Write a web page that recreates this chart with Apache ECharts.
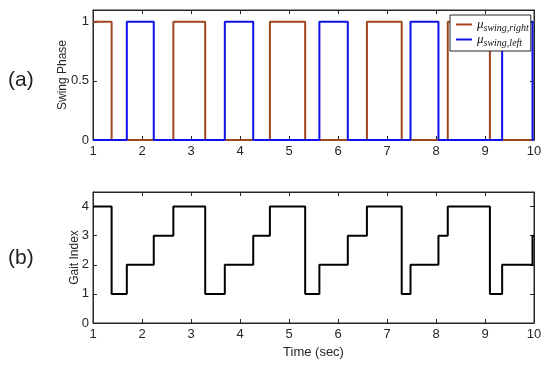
<!DOCTYPE html>
<html><head><meta charset="utf-8">
<script src="https://cdn.jsdelivr.net/npm/echarts@6/dist/echarts.min.js"></script>
<style>html,body{margin:0;padding:0;background:#fff}#c{width:550px;height:365px}</style>
</head><body><div id="c"></div>
<script>
// ---- data ----
var timeTicks = [1,2,3,4,5,6,7,8,9,10];
var phaseTicks = [0, 0.5, 1];
var gaitTicks = [0, 1, 2, 3, 4];
// right swing: change times and values (value holds from that time)
var rightT = [1, 1.38, 2.64, 3.29, 4.61, 5.33, 6.59, 7.30, 8.24, 9.10, 10];
var rightV = [1, 0, 1, 0, 1, 0, 1, 0, 1, 0, 0];
// left swing
var leftT = [1, 1.69, 2.24, 3.69, 4.27, 5.62, 6.20, 7.48, 8.05, 9.35, 9.97, 10];
var leftV = [0, 1, 0, 1, 0, 1, 0, 1, 0, 1, 0, 0];
// gait index
var gaitT = [1, 1.38, 1.69, 2.24, 2.64, 3.29, 3.69, 4.27, 4.61, 5.33, 5.62, 6.20, 6.59, 7.30, 7.48, 8.05, 8.24, 9.10, 9.35, 9.97, 10];
var gaitV = [4, 1, 2, 3, 4, 1, 2, 3, 4, 1, 2, 3, 4, 1, 2, 3, 4, 1, 2, 3, 3];
var seriesNames = ['right', 'left'];

function pairs(t, v){ return t.map(function(x,i){ return [x, v[i]]; }); }

var ax = '#262626';
var font = 'Liberation Sans, Arial, sans-serif';
var chart = echarts.init(document.getElementById('c'), null, {renderer:'canvas'});

function xAx(grid, pos, showLabel, name){
  return {
    type:'value', gridIndex:grid, position:pos, min:1, max:10, interval:1,
    axisLine:{show:true, onZero:false, lineStyle:{color:ax, width:1}},
    axisTick:{show:true, inside:true, length:4, lineStyle:{color:ax}},
    axisLabel:{show:showLabel, color:ax, fontSize:13, fontFamily:font, margin:5},
    splitLine:{show:false},
    name: name || '', nameLocation:'middle', nameGap:23, nameMoveOverlap:false,
    nameTextStyle:{color:ax, fontSize:13, fontFamily:font}
  };
}
function yAx(grid, pos, max, ticks, showLabel, name, gap){
  return {
    type:'value', gridIndex:grid, position:pos, min:0, max:max,
    axisLine:{show:true, onZero:false, lineStyle:{color:ax, width:1}},
    axisTick:{show:true, inside:true, length:4, customValues:ticks, lineStyle:{color:ax}},
    axisLabel:{show:showLabel, customValues:ticks, color:ax, fontSize:13, fontFamily:font, margin:4},
    splitLine:{show:false},
    name: name || '', nameLocation:'middle', nameGap:gap || 0, nameMoveOverlap:false,
    nameTextStyle:{color:ax, fontSize:12, fontFamily:font}
  };
}

var legendFmt = function(n){
  return '{m|μ}{s|swing,' + n + '}';
};

chart.setOption({
  animation:false,
  backgroundColor:'#fff',
  title:[
    {text:'(a)', left:3, top:65, textStyle:{fontSize:21, fontWeight:'normal', color:'#222', fontFamily:font}},
    {text:'(b)', left:3, top:243, textStyle:{fontSize:21, fontWeight:'normal', color:'#222', fontFamily:font}}
  ],
  grid:[
    {left:93, right:16, top:10, height:130, show:true, borderColor:ax, borderWidth:1},
    {left:93, right:16, top:192, height:131, show:true, borderColor:ax, borderWidth:1}
  ],
  xAxis:[
    xAx(0,'bottom',true),
    xAx(0,'top',false),
    xAx(1,'bottom',true,'Time (sec)'),
    xAx(1,'top',false)
  ],
  yAxis:[
    yAx(0,'left',1.1,phaseTicks,true,'Swing Phase',24),
    yAx(0,'right',1.1,phaseTicks,false),
    yAx(1,'left',4.5,gaitTicks,true,'Gait Index',12),
    yAx(1,'right',4.5,gaitTicks,false)
  ],
  legend:{
    left:450, top:15, orient:'vertical', itemGap:0,
    backgroundColor:'#fff', borderColor:ax, borderWidth:1, padding:[3,2,3,6],
    icon:'rect', itemWidth:16, itemHeight:2,
    data:seriesNames,
    formatter:legendFmt,
    textStyle:{
      rich:{
        m:{fontSize:13, fontStyle:'italic', fontFamily:'Liberation Serif, DejaVu Serif, serif', color:'#111', lineHeight:17},
        s:{fontSize:10, fontStyle:'italic', fontFamily:'Liberation Serif, DejaVu Serif, serif', color:'#111', verticalAlign:'bottom', lineHeight:15}
      }
    }
  },
  series:[
    {name:'right', type:'line', step:'end', xAxisIndex:0, yAxisIndex:0, data:pairs(rightT,rightV),
     showSymbol:false, lineStyle:{color:'#a0461e', width:2}, itemStyle:{color:'#a0461e'}},
    {name:'left', type:'line', step:'end', xAxisIndex:0, yAxisIndex:0, data:pairs(leftT,leftV),
     showSymbol:false, lineStyle:{color:'#1010e8', width:2}, itemStyle:{color:'#1010e8'}},
    {name:'gait', type:'line', step:'end', xAxisIndex:2, yAxisIndex:2, data:pairs(gaitT,gaitV),
     showSymbol:false, lineStyle:{color:'#000', width:2}, itemStyle:{color:'#000'}}
  ]
});
</script>
</body></html>
